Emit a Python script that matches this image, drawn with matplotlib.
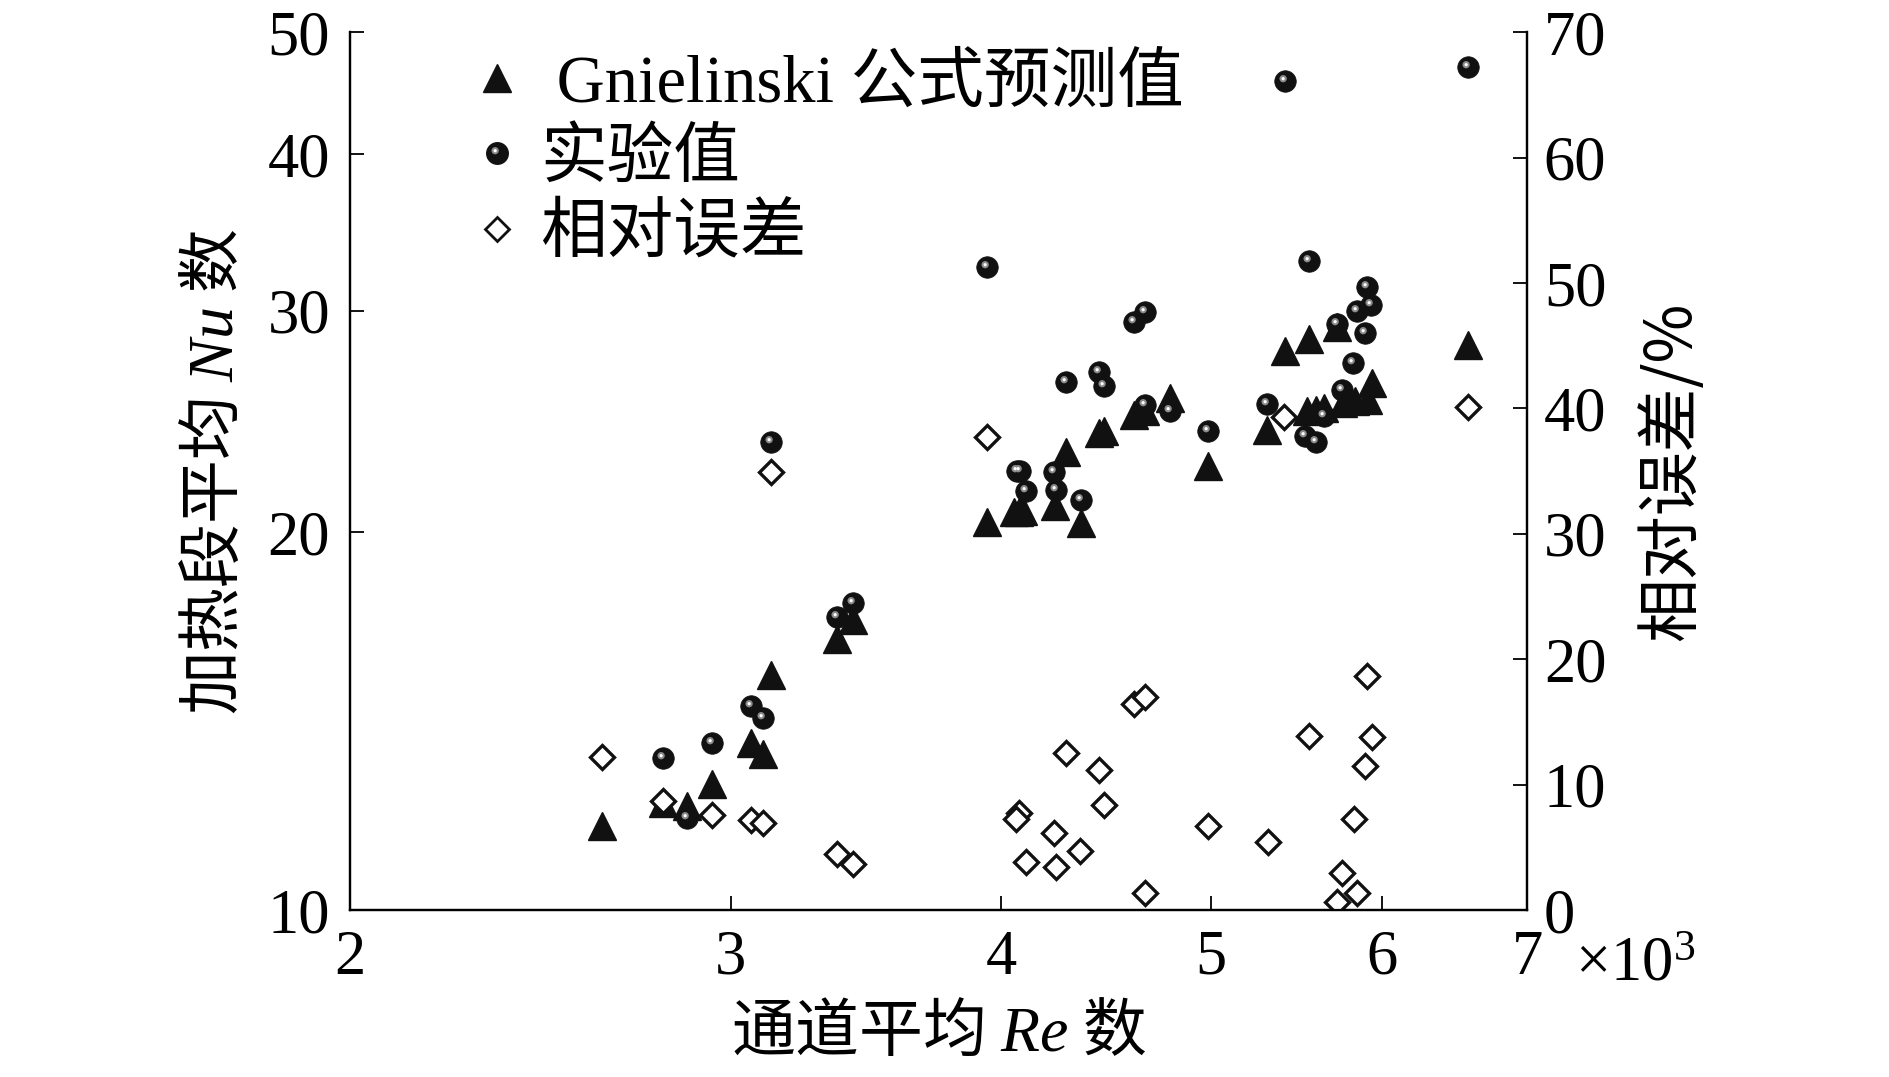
import numpy as np
import matplotlib
matplotlib.use("Agg")
import matplotlib.pyplot as plt
from matplotlib.path import Path
from matplotlib.lines import Line2D
from matplotlib.ticker import FixedLocator, FixedFormatter, NullLocator

plt.rcParams["font.family"] = ["Liberation Serif", "Noto Sans CJK SC"]
plt.rcParams["mathtext.fontset"] = "custom"
plt.rcParams["mathtext.rm"] = "Liberation Serif"
plt.rcParams["mathtext.it"] = "Liberation Serif:italic"

# Gnielinski prediction: Re (x10^3), Nu
re_gn = [2.617, 2.791, 2.863, 2.941, 3.065, 3.106, 3.131, 3.359, 3.416,
         3.941, 4.054, 4.075, 4.096, 4.235, 4.286, 4.353, 4.440, 4.463,
         4.605, 4.664, 4.785, 4.986, 5.310, 5.410, 5.552, 5.720, 5.536,
         5.593, 5.640, 5.756, 5.828, 5.911, 5.935, 6.575]
nu_gn = [11.67, 12.17, 12.10, 12.61, 13.58, 13.32, 15.40, 16.44, 17.01,
         20.38, 20.74, 20.74, 20.79, 20.96, 23.18, 20.32, 23.97, 24.05,
         24.79, 24.97, 25.56, 22.56, 24.11, 27.89, 28.49, 29.15, 24.95,
         25.02, 25.10, 25.33, 25.41, 25.49, 26.28, 28.19]

# experiment: Re (x10^3), Nu
re_exp = [2.792, 2.863, 2.941, 3.065, 3.106, 3.131, 3.359, 3.416, 3.941,
          4.066, 4.080, 4.106, 4.231, 4.240, 4.353, 4.286, 4.440, 4.463,
          4.605, 4.664, 4.662, 4.785, 4.986, 5.310, 5.410, 5.552, 5.901,
          5.926, 5.838, 5.717, 5.890, 5.818, 5.746, 5.637, 5.526, 5.593,
          6.575]
nu_exp = [13.21, 11.83, 13.58, 14.55, 14.22, 23.57, 17.12, 17.57, 32.50,
          22.35, 22.35, 21.58, 22.31, 21.61, 21.22, 26.32, 26.81, 26.12,
          29.42, 29.96, 25.25, 24.95, 24.05, 25.30, 45.77, 32.90, 31.33,
          30.34, 30.00, 29.30, 28.80, 27.26, 25.96, 24.72, 23.83, 23.57,
          46.90]

# relative error: Re (x10^3), %
re_err = [2.617, 2.792, 2.941, 3.065, 3.106, 3.131, 3.359, 3.416, 3.941,
          4.076, 4.064, 4.231, 4.351, 4.106, 4.240, 4.286, 4.440, 4.463,
          4.609, 4.664, 4.664, 4.986, 5.314, 5.406, 5.552, 5.901, 5.936,
          5.890, 5.821, 5.750, 5.842, 5.720, 6.575]
err = [12.19, 8.70, 7.58, 7.15, 6.96, 34.95, 4.44, 3.71, 37.75,
       7.72, 7.24, 6.12, 4.74, 3.86, 3.41, 12.50, 11.17, 8.38,
       16.44, 16.97, 1.34, 6.70, 5.40, 39.33, 13.88, 18.67, 13.83,
       11.49, 7.24, 2.93, 1.34, 0.67, 40.15]

x_ticks = [2, 3, 4, 5, 6, 7]
nu_ticks = [10, 20, 30, 40, 50]
err_ticks = [0, 10, 20, 30, 40, 50, 60, 70]

cjk = ["Noto Sans CJK SC"]


def spot(cx, cy, r):
    # small offset disc used as the shine on the ball markers
    c = Path.circle(center=(cx, cy), radius=r)
    verts = np.vstack([[1.0, 1.0], c.vertices])
    codes = np.concatenate([[Path.MOVETO], c.codes])
    return Path(verts, codes)


shine_outer = spot(-0.22, 0.26, 0.34)
shine_inner = spot(-0.22, 0.26, 0.15)

fig = plt.figure(figsize=(18.9, 10.77), dpi=100)
ax = fig.add_axes([0.185, 0.155, 0.623, 0.815])
ax2 = ax.twinx()

ball_ms = 15.5
tri_ms = 19.5
dia_ms = 12.5
ax.plot(re_gn, nu_gn, ls="none", marker="^", ms=tri_ms, color="#111111", mec="#111111")
ax.plot(re_exp, nu_exp, ls="none", marker="o", ms=ball_ms, color="#111111", mec="#111111", mew=0.5)
ax.plot(re_exp, nu_exp, ls="none", marker=shine_outer, ms=ball_ms, color="#8a8a8a", mew=0)
ax.plot(re_exp, nu_exp, ls="none", marker=shine_inner, ms=ball_ms, color="white", mew=0)
ax2.plot(re_err, err, ls="none", marker="D", ms=dia_ms, mfc="white", mec="#111111", mew=2.4)

ax.set_xscale("log")
ax.set_yscale("log")
ax.set_xlim(2, 7)
ax.set_ylim(10, 50)
ax2.set_ylim(0, 70)

ax.xaxis.set_major_locator(FixedLocator(x_ticks))
ax.xaxis.set_major_formatter(FixedFormatter(["2", "3", "4", "5", "6", "7"]))
ax.xaxis.set_minor_locator(NullLocator())
ax.yaxis.set_major_locator(FixedLocator(nu_ticks))
ax.yaxis.set_major_formatter(FixedFormatter([str(v) for v in nu_ticks]))
ax.yaxis.set_minor_locator(NullLocator())
ax2.yaxis.set_major_locator(FixedLocator(err_ticks))

for a in (ax, ax2):
    a.spines["top"].set_visible(False)
    for s in a.spines.values():
        s.set_linewidth(1.6)
    a.tick_params(which="major", direction="in", length=10, width=1.3, labelsize=45)
ax.tick_params(axis="x", pad=14)
ax.tick_params(axis="y", pad=14)
ax2.tick_params(axis="y", pad=12)

ax.text(1.041, -0.08, "×10$^{3}$", transform=ax.transAxes, fontsize=45,
        ha="left", va="baseline")

ax.set_xlabel("通道平均 $Re$ 数", fontsize=46, family=cjk, va="center")
ax.xaxis.set_label_coords(0.5, -0.14)
ax.set_ylabel("加热段平均 $Nu$ 数", fontsize=46, family=cjk, va="center")
ax.yaxis.set_label_coords(-0.115, 0.5)
ax2.set_ylabel("相对误差/%", fontsize=46, family=cjk, va="center", rotation=90)
ax2.yaxis.set_label_coords(1.123, 0.5)

h_tri = Line2D([], [], ls="none", marker="^", ms=tri_ms, color="#111111")
h_ball = (Line2D([], [], ls="none", marker="o", ms=ball_ms, color="#111111"),
          Line2D([], [], ls="none", marker=shine_outer, ms=ball_ms, color="#8a8a8a", mew=0),
          Line2D([], [], ls="none", marker=shine_inner, ms=ball_ms, color="white", mew=0))
h_dia = Line2D([], [], ls="none", marker="D", ms=dia_ms, mfc="white", mec="#111111", mew=2.0)
ax2.legend([h_tri, h_ball, h_dia], [" Gnielinski 公式预测值", "实验值", "相对误差"],
           loc="upper left", bbox_to_anchor=(0.108, 0.975), frameon=False,
           fontsize=48, handlelength=0.6, handletextpad=0.35, labelspacing=0.2,
           borderpad=0, borderaxespad=0)

fig.savefig("out.png", dpi=100)
